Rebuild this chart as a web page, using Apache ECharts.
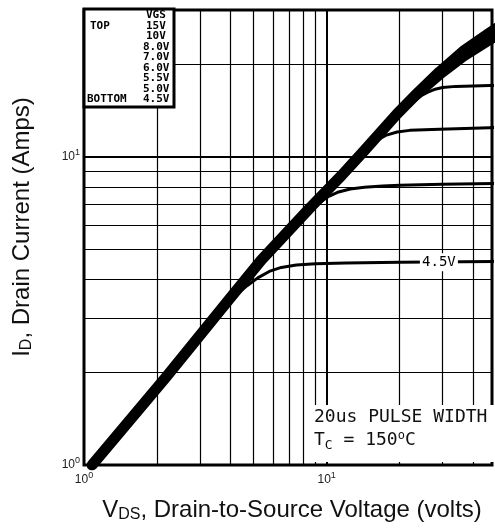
<!DOCTYPE html>
<html>
<head>
<meta charset="utf-8">
<script src="https://cdn.jsdelivr.net/npm/echarts@6/dist/echarts.min.js"></script>
<style>
html, body { margin: 0; padding: 0; background: #fff; }
#chart { width: 495px; height: 531px; }
</style>
</head>
<body>
<div id="chart"></div>
<script>
// VDS (volts) and ID (amps)
const vds15 = [1.08, 2.18, 3.94, 5.38, 8.6, 11.5, 14.3, 19.5, 24, 29.2, 37, 46.7, 60];
const id15 = [1.0, 1.93, 3.43, 4.63, 6.88, 8.7, 10.5, 13.8, 16.3, 18.9, 22.2, 25.2, 28.8];
const vds10 = [1.08, 2.18, 3.94, 5.38, 8.6, 11.5, 14.3, 19.5, 24, 29.2, 37, 46.7, 60];
const id10 = [1.0, 1.93, 3.43, 4.63, 6.88, 8.7, 10.5, 13.8, 16.0, 18.3, 21.1, 23.7, 26.6];
const vds60 = [1.08, 2.18, 3.94, 5.38, 8.6, 11.5, 14.3, 19.5, 21.5, 23, 24.5, 26, 28, 30, 34, 47, 100];
const id60 = [1.0, 1.93, 3.43, 4.63, 6.88, 8.7, 10.5, 13.8, 14.6, 15.2, 15.8, 16.2, 16.6, 16.8, 16.95, 17.05, 17.2];
const vds55 = [1.08, 2.18, 3.94, 5.38, 8.6, 11.5, 13.5, 15, 16.2, 17.5, 19.5, 22, 29.2, 47, 100];
const id55 = [1.0, 1.93, 3.43, 4.63, 6.88, 8.7, 9.95, 10.8, 11.35, 11.75, 12.05, 12.2, 12.3, 12.45, 12.6];
const vds50 = [1.08, 2.18, 3.94, 5.38, 8.2, 9.2, 10.2, 11.2, 12.5, 14.3, 17, 20, 30, 50, 100];
const id50 = [1.0, 1.93, 3.43, 4.63, 6.6, 7.05, 7.45, 7.7, 7.87, 7.97, 8.05, 8.1, 8.15, 8.2, 8.25];
const vds45 = [1.08, 2.18, 3.7, 4.2, 4.7, 5.2, 5.8, 6.5, 7.5, 9, 12, 20, 50, 100];
const id45 = [1.0, 1.93, 3.25, 3.55, 3.82, 4.05, 4.25, 4.38, 4.46, 4.5, 4.53, 4.55, 4.58, 4.6];

// minor grid lines of the log axes
const xMinor = [2, 3, 4, 5, 6, 7, 8, 9, 20, 30, 40];
const yMinor = [2, 3, 4, 5, 6, 7, 8, 9, 20];

const vgsLevels = ['15V', '10V', '8.0V', '7.0V', '6.0V', '5.5V', '5.0V', '4.5V'];
const label45At = [29, 4.55];

const zip = (xs, ys) => xs.map((x, i) => [x, ys[i]]);

const chart = echarts.init(document.getElementById('chart'));

const decadeLabel = {
    formatter: function (v) {
        const e = Math.log10(v);
        if (Math.abs(e - Math.round(e)) > 1e-6) return '';
        return '{b|10}{s|' + Math.round(e) + '}';
    },
    rich: {
        b: { fontSize: 12, fontFamily: 'Liberation Sans', color: '#222' },
        s: { fontSize: 9, fontFamily: 'Liberation Sans', color: '#222', padding: [0, 0, 8, 0] }
    }
};

function curve(name, xs, ys, width, z) {
    return {
        name: name,
        type: 'line',
        data: zip(xs, ys),
        showSymbol: false,
        z: z || 2,
        lineStyle: { color: '#000', width: width, join: 'round', cap: 'round' },
        animation: false
    };
}

const mono = 'DejaVu Sans Mono';
const boxFont = 'bold 11px ' + mono;
function boxText(str, x, y) {
    return { type: 'text', z: 102, x: x, y: y, style: { text: str, font: boxFont, fill: '#000', verticalAlign: 'top' } };
}
const boxTexts = [boxText('VGS', 146, 10), boxText('TOP', 90, 20.5), boxText('BOTTOM', 87, 94)];
vgsLevels.forEach(function (lv, i) {
    boxTexts.push(boxText(lv, lv.length > 3 ? 143 : 146, 20.5 + i * 10.5));
});

chart.setOption({
    animation: false,
    grid: {
        left: 84, top: 10, bottom: 66, right: 0,
        show: true, borderColor: '#000', borderWidth: 3, backgroundColor: '#fff'
    },
    xAxis: {
        type: 'log', logBase: 10, min: 1, max: 48,
        axisLine: { show: false }, axisTick: { show: false },
        splitLine: { show: true, lineStyle: { color: '#000', width: 2 } },
        axisLabel: Object.assign({ margin: 6 }, decadeLabel)
    },
    yAxis: {
        type: 'log', logBase: 10, min: 1, max: 30,
        axisLine: { show: false }, axisTick: { show: false },
        splitLine: { show: true, lineStyle: { color: '#000', width: 2 } },
        axisLabel: Object.assign({ margin: 4 }, decadeLabel)
    },
    series: [
        {
            type: 'line', data: [], z: 1, silent: true,
            markLine: {
                silent: true, symbol: ['none', 'none'], animation: false,
                label: { show: false },
                lineStyle: { color: '#000', width: 1.2, type: 'solid' },
                data: xMinor.map(v => ({ xAxis: v })).concat(yMinor.map(v => ({ yAxis: v })))
            }
        },
        curve('15V', vds15, id15, 11),
        curve('10V', vds10, id10, 8),
        curve('6.0V', vds60, id60, 3),
        curve('5.5V', vds55, id55, 3),
        curve('5.0V', vds50, id50, 3),
        Object.assign(curve('4.5V', vds45, id45, 3, 3), {
            markPoint: {
                silent: true, animation: false,
                data: [{
                    coord: label45At, symbol: 'rect', symbolSize: [38, 18],
                    itemStyle: { color: '#fff' },
                    label: { show: true, position: 'inside', formatter: '4.5V', color: '#000', fontFamily: mono, fontSize: 14 }
                }]
            }
        })
    ],
    graphic: [
        { type: 'rect', z: 100, shape: { x: 84, y: 9, width: 90, height: 98 }, style: { fill: '#fff', stroke: '#000', lineWidth: 3 } }
    ].concat(boxTexts, [
        { type: 'rect', z: 100, shape: { x: 307, y: 405, width: 200, height: 57 }, style: { fill: '#fff' } },
        { type: 'text', z: 101, left: 314, top: 408, style: { text: '20us PULSE WIDTH', font: '18px ' + mono, fill: '#111' } },
        {
            type: 'text', z: 101, left: 314, top: 430,
            style: {
                text: '{t|T}{c|C}{t| = 150}{o|o}{t|C}',
                rich: {
                    t: { font: '18px ' + mono, fill: '#111' },
                    c: { font: '13px ' + mono, fill: '#111', padding: [10, 0, 0, 0] },
                    o: { font: '12px ' + mono, fill: '#111', padding: [0, 0, 9, 0] }
                }
            }
        },
        {
            type: 'text', z: 101, x: 292, y: 510,
            style: {
                text: '{n|V}{s|DS}{n|, Drain-to-Source Voltage (volts)}',
                align: 'center', verticalAlign: 'middle',
                rich: {
                    n: { font: '24px Liberation Sans', fill: '#111' },
                    s: { font: '16px Liberation Sans', fill: '#111', padding: [10, 0, 0, 0] }
                }
            }
        },
        {
            type: 'text', z: 101, x: 22, y: 227, rotation: Math.PI / 2,
            style: {
                text: '{n|I}{s|D}{n|, Drain Current (Amps)}',
                align: 'center', verticalAlign: 'middle',
                rich: {
                    n: { font: '24px Liberation Sans', fill: '#111' },
                    s: { font: '16px Liberation Sans', fill: '#111', padding: [10, 0, 0, 0] }
                }
            }
        }
    ])
});
</script>
</body>
</html>
